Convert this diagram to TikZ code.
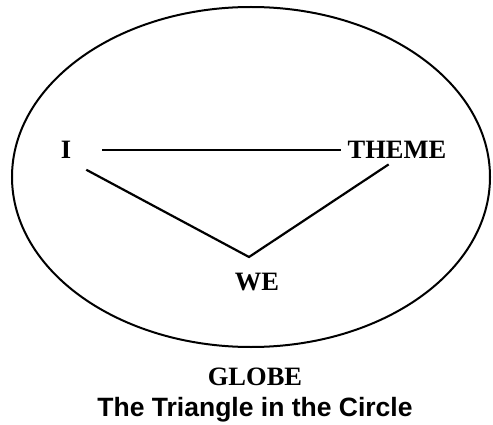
\documentclass[tikz,border=0pt]{standalone}
\usepackage{fontspec}
\setmainfont{Liberation Serif}
\setsansfont{Liberation Sans}
\usetikzlibrary{positioning,shapes.geometric}
\tikzset{
    word/.style={
        inner sep=0pt,
        font=\bfseries\fontsize{26.5}{26.5}\selectfont
    },
    globe/.style={
        draw,
        ellipse,
        line width=2pt,
        minimum width=478pt,
        minimum height=340pt
    },
    caption/.style={
        inner sep=0pt,
        font=\sffamily\bfseries\fontsize{26.5}{30}\selectfont
    },
    link/.style={
        line width=2.2pt
    }
}
\begin{document}
\begin{tikzpicture}[x=1pt, y=-1pt, node distance=20pt]
\useasboundingbox (0,0) rectangle (493,425);

\node[globe] (globe) at (251,177) {};

\node[word] (i) at (66,150) {I};
\node[word] (theme) at (397,150) {THEME};
\node[word] (we) at (257,282) {WE};
\coordinate (apex) at (249,257);

\node[word, below=20pt of globe, xshift=4pt] (globename) {GLOBE};
\node[caption, below=11pt of globename] (caption) {The Triangle in the Circle};

\draw[link, shorten <=31pt, shorten >=6pt] (i.east) -- (i.east -| theme.west);
\draw[link, shorten <=23pt, shorten >=10pt] (i.south) -- (apex) -- (theme.south);

\end{tikzpicture}
\end{document}
